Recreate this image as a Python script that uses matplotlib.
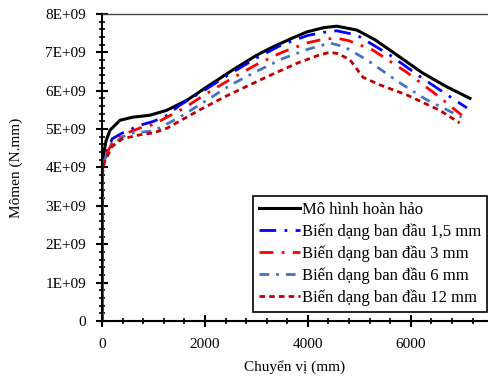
import numpy as np
import matplotlib.pyplot as plt
from matplotlib.ticker import MultipleLocator, FuncFormatter

# ── Dados ─────────────────────────────────────────────────────────────────────
x_hh = [0, 10, 30, 80, 155, 350, 600, 930, 1260, 1650, 2040, 2540, 3000, 3320,
        3700, 3980, 4300, 4560, 4950, 5300, 5590, 6230, 6700, 7150]
y_hh = [0, 4.1, 4.35, 4.7, 4.97, 5.23, 5.31, 5.36, 5.49, 5.75, 6.1, 6.54, 6.92,
        7.14, 7.37, 7.53, 7.64, 7.68, 7.58, 7.33, 7.06, 6.46, 6.1, 5.8]

x_15 = [0, 10, 50, 200, 400, 740, 1000, 1260, 1510, 2000, 2500, 3000, 3500,
        4000, 4300, 4560, 4950, 5590, 6230, 7090]
y_15 = [0, 4.0, 4.3, 4.75, 4.9, 5.1, 5.2, 5.35, 5.62, 6.02, 6.45, 6.85, 7.2,
        7.44, 7.52, 7.56, 7.45, 6.93, 6.32, 5.55]

x_3 = [0, 10, 50, 200, 400, 740, 1000, 1320, 1600, 2000, 2500, 3000, 3500,
       4000, 4300, 4560, 4800, 5260, 5920, 6560, 6990]
y_3 = [0, 4.0, 4.25, 4.65, 4.85, 5.03, 5.12, 5.35, 5.55, 5.9, 6.3, 6.68, 7.0,
       7.25, 7.34, 7.37, 7.3, 7.06, 6.48, 5.83, 5.36]

x_6 = [0, 10, 50, 200, 400, 600, 1000, 1500, 2000, 2500, 3000, 3500, 4000,
       4430, 4700, 5150, 5790, 6310, 6990]
y_6 = [0, 3.95, 4.2, 4.6, 4.8, 4.9, 4.95, 5.3, 5.72, 6.15, 6.5, 6.83, 7.08,
       7.24, 7.15, 6.8, 6.2, 5.76, 5.31]

x_12 = [0, 10, 50, 200, 400, 740, 1000, 1260, 1500, 1900, 2400, 2870, 3300,
        3800, 4200, 4430, 4600, 4820, 5070, 5400, 5920, 6560, 6950]
y_12 = [0, 3.85, 4.15, 4.55, 4.75, 4.85, 4.9, 5.02, 5.2, 5.5, 5.85, 6.15, 6.42,
        6.72, 6.92, 7.0, 6.96, 6.8, 6.35, 6.15, 5.89, 5.49, 5.16]

labels = ['Mô hình hoàn hảo',
          'Biến dạng ban đầu 1,5 mm',
          'Biến dạng ban đầu 3 mm',
          'Biến dạng ban đầu 6 mm',
          'Biến dạng ban đầu 12 mm']

# ── Figura ────────────────────────────────────────────────────────────────────
plt.rcParams['font.family'] = ['Liberation Serif', 'DejaVu Serif']
plt.rcParams['font.size'] = 11

fig = plt.figure(figsize=(4.88, 3.81), dpi=100)
ax = fig.add_axes([0.209, 0.1575, 0.791, 0.806])

E9 = 1e9
ax.plot(x_hh, np.array(y_hh) * E9, color='black', lw=2.2, label=labels[0])
ax.plot(x_15, np.array(y_15) * E9, color='#0000FF', lw=2.0,
        dashes=(6, 3, 1, 3), label=labels[1])
ax.plot(x_3, np.array(y_3) * E9, color='#FF0000', lw=2.0,
        dashes=(5, 3, 1, 3), label=labels[2])
ax.plot(x_6, np.array(y_6) * E9, color='#4472C4', lw=2.0,
        dashes=(3.5, 2.5, 1, 2.5), label=labels[3])
ax.plot(x_12, np.array(y_12) * E9, color='#C00000', lw=2.0,
        dashes=(2, 1.5), label=labels[4])

# ── Eixos ─────────────────────────────────────────────────────────────────────
ax.set_xlim(0, 7500)
ax.set_ylim(0, 8e9)
ax.xaxis.set_major_locator(MultipleLocator(2000))
ax.xaxis.set_minor_locator(MultipleLocator(400))
ax.yaxis.set_major_locator(MultipleLocator(1e9))
ax.yaxis.set_minor_locator(MultipleLocator(2e8))
ax.yaxis.set_major_formatter(
    FuncFormatter(lambda v, _: '0' if v == 0 else f'{int(round(v / 1e9))}E+09'))

ax.tick_params(which='major', direction='inout', length=9, width=1.5)
ax.tick_params(which='minor', direction='inout', length=4, width=1.2)
ax.tick_params(axis='x', which='major', pad=8)
ax.tick_params(axis='y', which='major', pad=7)
ax.spines['right'].set_visible(False)
for s in ['left', 'bottom']:
    ax.spines[s].set_linewidth(1.5)
ax.spines['top'].set_linewidth(1.0)
ax.spines['top'].set_color('#444444')

ax.set_xlabel('Chuyển vị (mm)', labelpad=6)
ax.set_ylabel('Mômen (N.mm)', labelpad=16)

# legenda colada à borda direita, como no original
leg = ax.legend(loc='lower right', bbox_to_anchor=(0.998, 0.03),
                fancybox=False, framealpha=1, edgecolor='black',
                handlelength=2.5, handletextpad=0.1, borderpad=0.35,
                labelspacing=0.33, borderaxespad=0.0, fontsize=12)
leg.get_frame().set_linewidth(1.2)

fig.savefig('out.png', dpi=100)
